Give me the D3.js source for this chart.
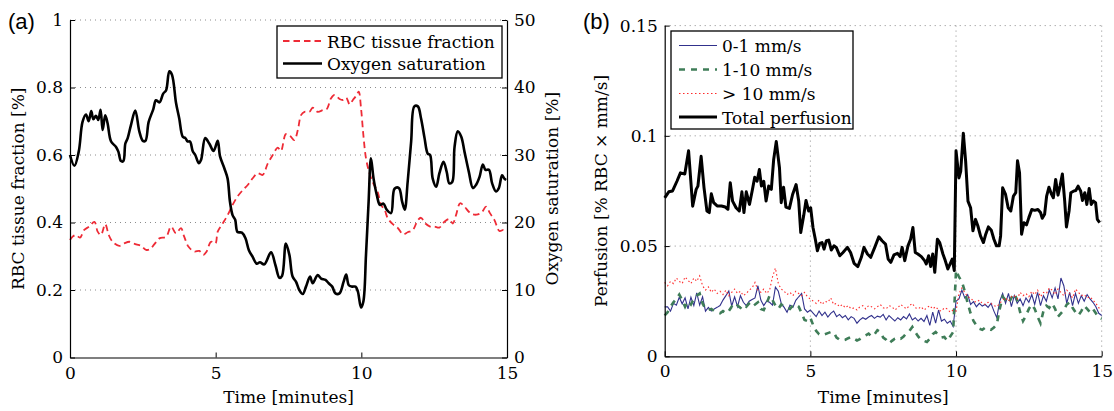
<!DOCTYPE html>
<html><head><meta charset="utf-8">
<script src="https://cdn.jsdelivr.net/npm/d3@7"></script>
<style>
body{margin:0;background:#fff}
svg text{font-family:"DejaVu Serif",serif;fill:#000}
</style></head><body>
<svg id="fig" width="1114" height="411"></svg>
<script>
// ---------- Panel (a): RBC tissue fraction and oxygen saturation ----------
// [time (min), RBC tissue fraction]
const rbcFraction = [
  [0,0.348],[0.09,0.358],[0.2,0.363],[0.34,0.355],[0.49,0.378],[0.66,0.388],[0.84,0.402],[0.95,0.373],
  [1.06,0.363],[1.21,0.395],[1.33,0.363],[1.46,0.343],[1.69,0.331],[1.86,0.338],[2.04,0.343],[2.27,0.335],
  [2.44,0.331],[2.61,0.319],[2.75,0.321],[2.89,0.335],[3.07,0.353],[3.3,0.358],[3.47,0.388],[3.64,0.368],
  [3.81,0.383],[3.92,0.358],[4.07,0.328],[4.27,0.314],[4.44,0.316],[4.58,0.304],[4.69,0.314],[4.84,0.343],
  [4.99,0.338],[5.07,0.373],[5.24,0.397],[5.41,0.422],[5.58,0.452],[5.75,0.477],[5.93,0.496],[6.1,0.511],
  [6.27,0.531],[6.44,0.546],[6.61,0.541],[6.79,0.575],[6.96,0.6],[7.13,0.622],[7.24,0.612],[7.41,0.662],
  [7.55,0.657],[7.7,0.644],[7.82,0.674],[7.93,0.718],[8.05,0.728],[8.22,0.728],[8.33,0.74],[8.5,0.728],
  [8.68,0.733],[8.81,0.736],[8.96,0.768],[9.08,0.778],[9.25,0.766],[9.37,0.763],[9.48,0.77],[9.6,0.75],
  [9.71,0.763],[9.83,0.776],[9.91,0.788],[9.99,0.738],[10.07,0.659],[10.16,0.59],[10.28,0.546],[10.41,0.516],
  [10.56,0.491],[10.68,0.452],[10.8,0.437],[10.91,0.412],[11.08,0.395],[11.26,0.383],[11.43,0.365],[11.59,0.371],
  [11.77,0.378],[11.94,0.407],[12.05,0.414],[12.2,0.397],[12.36,0.388],[12.51,0.388],[12.68,0.385],[12.85,0.402],
  [13.02,0.41],[13.14,0.397],[13.25,0.422],[13.39,0.457],[13.54,0.447],[13.69,0.432],[13.83,0.424],[14.0,0.424],
  [14.15,0.432],[14.28,0.447],[14.42,0.427],[14.57,0.407],[14.74,0.375],[14.88,0.378],[14.97,0.373]
];
// [time (min), oxygen saturation (%)]
const oxygenSat = [
  [0,30.0],[0.15,28.4],[0.3,30.5],[0.43,34.9],[0.55,36.0],[0.64,35.0],[0.73,36.5],[0.8,35.3],[0.89,35.8],
  [0.97,35.2],[1.05,36.7],[1.12,33.7],[1.21,35.9],[1.29,34.7],[1.41,32.0],[1.58,31.2],[1.66,30.5],[1.75,29.1],
  [1.83,29.1],[1.9,31.7],[1.98,32.5],[2.09,34.4],[2.24,36.6],[2.38,33.5],[2.5,32.1],[2.59,32.1],[2.7,34.9],
  [2.86,36.8],[2.95,38.1],[3.07,37.8],[3.2,39.1],[3.3,39.6],[3.41,42.4],[3.5,41.9],[3.64,37.7],[3.75,35.4],
  [3.87,32.7],[3.96,32.5],[4.04,32.0],[4.12,32.0],[4.21,30.6],[4.3,30.0],[4.42,28.8],[4.5,29.3],[4.64,32.5],
  [4.78,31.7],[4.93,30.6],[5.07,32.1],[5.15,29.8],[5.3,28.0],[5.41,26.5],[5.49,23.1],[5.58,21.1],[5.67,20.4],
  [5.75,18.6],[5.9,18.5],[6.02,17.7],[6.14,15.9],[6.27,14.9],[6.41,13.9],[6.52,14.1],[6.67,13.8],[6.9,15.6],
  [7.05,13.7],[7.19,11.8],[7.28,12.1],[7.41,16.9],[7.53,15.2],[7.64,12.0],[7.76,11.2],[7.87,10.0],[7.99,9.4],
  [8.1,10.5],[8.24,12.0],[8.33,11.0],[8.5,12.2],[8.62,11.7],[8.77,11.5],[8.88,11.0],[9.0,10.5],[9.11,9.5],
  [9.25,9.5],[9.39,11.2],[9.48,12.3],[9.57,10.7],[9.68,10.5],[9.8,10.5],[9.88,9.8],[9.99,7.4],[10.07,8.3],
  [10.16,15.2],[10.25,23.1],[10.33,29.5],[10.42,26.5],[10.53,24.1],[10.64,22.6],[10.76,22.8],[10.87,21.9],
  [11.02,21.4],[11.14,25.0],[11.29,25.1],[11.4,23.1],[11.49,21.9],[11.59,26.0],[11.71,32.0],[11.82,37.2],
  [11.94,37.2],[12.05,35.4],[12.17,32.5],[12.28,30.2],[12.36,30.0],[12.45,26.5],[12.57,25.3],[12.68,27.3],
  [12.82,29.0],[12.93,27.5],[13.02,25.8],[13.12,26.0],[13.2,31.2],[13.31,33.5],[13.43,32.7],[13.54,30.5],
  [13.69,27.5],[13.83,25.1],[13.94,25.6],[14.06,26.8],[14.17,28.6],[14.26,27.8],[14.38,27.8],[14.49,25.8],
  [14.62,24.6],[14.72,25.1],[14.83,27.0],[14.91,26.5],[14.97,26.3]
];
const timeTicks = [0, 5, 10, 15];
const rbcTicks = [0, 0.2, 0.4, 0.6, 0.8, 1];
const satTicks = [0, 10, 20, 30, 40, 50];

// ---------- Panel (b): perfusion by flow-speed class ----------
// total perfusion, [time (min), % RBC x mm/s]
const totalPerfusion = [
  [0,0.0719],[0.14,0.0746],[0.27,0.075],[0.42,0.0794],[0.54,0.0832],[0.69,0.0827],[0.82,0.0932],[0.96,0.0681],
  [1.08,0.0757],[1.14,0.0772],[1.25,0.0907],[1.35,0.0764],[1.45,0.0659],[1.53,0.0652],[1.6,0.0737],[1.68,0.0697],
  [1.8,0.0682],[1.95,0.0682],[2.08,0.0677],[2.17,0.0667],[2.25,0.0787],[2.33,0.0704],[2.45,0.0674],[2.56,0.0659],
  [2.65,0.0746],[2.72,0.0652],[2.8,0.0746],[2.91,0.0689],[3.0,0.0749],[3.09,0.0812],[3.17,0.0794],[3.25,0.0847],
  [3.32,0.0772],[3.4,0.0794],[3.48,0.0704],[3.57,0.0772],[3.66,0.0757],[3.74,0.0892],[3.83,0.0974],[3.94,0.0854],
  [4.0,0.0697],[4.08,0.0767],[4.16,0.0677],[4.28,0.0671],[4.39,0.0734],[4.51,0.0779],[4.6,0.0704],[4.67,0.0561],
  [4.77,0.0637],[4.85,0.0707],[4.94,0.0659],[5.01,0.0674],[5.09,0.0584],[5.17,0.0531],[5.24,0.0479],[5.32,0.0512],
  [5.4,0.0516],[5.47,0.0486],[5.55,0.0524],[5.63,0.0527],[5.72,0.0482],[5.81,0.0501],[5.89,0.0494],[6.01,0.0456],
  [6.12,0.0471],[6.27,0.0494],[6.38,0.0471],[6.5,0.0422],[6.63,0.0407],[6.75,0.0449],[6.84,0.0494],[6.96,0.0464],
  [7.07,0.0449],[7.21,0.0494],[7.35,0.0542],[7.46,0.0524],[7.58,0.0509],[7.67,0.0441],[7.76,0.0426],[7.87,0.046],
  [7.99,0.0467],[8.08,0.0452],[8.15,0.0494],[8.24,0.0434],[8.35,0.0501],[8.44,0.0531],[8.52,0.0584],[8.6,0.0471],
  [8.69,0.0464],[8.81,0.0452],[8.92,0.0434],[8.98,0.0419],[9.06,0.0456],[9.13,0.0407],[9.2,0.0464],[9.27,0.0381],
  [9.36,0.0531],[9.44,0.0516],[9.55,0.0464],[9.63,0.0434],[9.72,0.0396],[9.82,0.0426],[9.87,0.0441],[9.94,0.0389],
  [10.0,0.0932],[10.1,0.0809],[10.16,0.0839],[10.25,0.1012],[10.33,0.0884],[10.41,0.0704],[10.5,0.0674],[10.58,0.0569],
  [10.67,0.0621],[10.75,0.0591],[10.84,0.0546],[10.94,0.0516],[11.02,0.0554],[11.11,0.0587],[11.21,0.0572],[11.3,0.0531],
  [11.39,0.0501],[11.48,0.0501],[11.53,0.0546],[11.6,0.0764],[11.7,0.0734],[11.79,0.0674],[11.88,0.0659],[11.97,0.0727],
  [12.05,0.0742],[12.11,0.0887],[12.18,0.0832],[12.25,0.0554],[12.33,0.0606],[12.42,0.0596],[12.5,0.0629],[12.6,0.0666],
  [12.7,0.0662],[12.81,0.0666],[12.9,0.0652],[12.96,0.0626],[13.04,0.0644],[13.11,0.0727],[13.19,0.0767],[13.27,0.0737],
  [13.34,0.0719],[13.42,0.0802],[13.5,0.0731],[13.57,0.0772],[13.65,0.0827],[13.73,0.0704],[13.79,0.0587],[13.88,0.0659],
  [13.94,0.0742],[14.03,0.0749],[14.11,0.0752],[14.19,0.0772],[14.28,0.0749],[14.34,0.0707],[14.42,0.0742],[14.49,0.0689],
  [14.57,0.0761],[14.64,0.0689],[14.71,0.0704],[14.79,0.0697],[14.85,0.0621],[14.93,0.0606]
];
// speed-class perfusion sampled every 0.1 min from 0 to 15 min
const sampleStep = 0.1;
const slowFlow = [ // 0-1 mm/s
  0.0224,0.0224,0.0205,0.0240,0.0232,0.0268,0.0238,0.0265,0.0215,0.0268,
  0.0230,0.0288,0.0232,0.0270,0.0205,0.0222,0.0205,0.0215,0.0222,0.0230,
  0.0255,0.0275,0.0296,0.0228,0.0270,0.0225,0.0275,0.0245,0.0230,0.0250,
  0.0258,0.0265,0.0320,0.0255,0.0230,0.0250,0.0245,0.0232,0.0314,0.0295,
  0.0240,0.0222,0.0200,0.0232,0.0222,0.0254,0.0270,0.0285,0.0215,0.0200,
  0.0210,
  0.0195,0.0180,0.0205,0.0185,0.0200,0.0178,0.0195,0.0205,0.0180,0.0190,
  0.0175,0.0185,0.0165,0.0180,0.0172,0.0150,0.0165,0.0175,0.0168,0.0178,
  0.0185,0.0172,0.0182,0.0178,0.0190,0.0165,0.0185,0.0172,0.0160,0.0175,
  0.0165,0.0180,0.0170,0.0192,0.0165,0.0175,0.0160,0.0172,0.0158,0.0185,
  0.0140,0.0200,0.0150,0.0210,0.0160,0.0168,0.0150,0.0160,0.0135,0.0250,
  0.0260,0.0300,0.0265,0.0280,0.0235,0.0248,0.0225,0.0240,0.0228,0.0235,
  0.0222,0.0240,0.0205,0.0175,0.0250,0.0285,0.0240,0.0285,0.0225,0.0275,
  0.0240,0.0260,0.0230,0.0265,0.0245,0.0280,0.0235,0.0290,0.0230,0.0275,
  0.0250,0.0300,0.0265,0.0310,0.0260,0.0355,0.0320,0.0240,0.0290,0.0230,
  0.0285,0.0240,0.0275,0.0250,0.0280,0.0260,0.0245,0.0225,0.0195,0.0185
];
const midFlow = [ // 1-10 mm/s
  0.0185,0.0200,0.0225,0.0245,0.0260,0.0280,0.0255,0.0225,0.0250,0.0235,
  0.0260,0.0275,0.0285,0.0240,0.0215,0.0210,0.0215,0.0205,0.0200,0.0195,
  0.0205,0.0195,0.0205,0.0225,0.0215,0.0230,0.0220,0.0235,0.0225,0.0240,
  0.0250,0.0235,0.0245,0.0215,0.0210,0.0240,0.0275,0.0255,0.0230,0.0215,
  0.0235,0.0225,0.0220,0.0215,0.0230,0.0235,0.0225,0.0195,0.0165,0.0160,
  0.0175,
  0.0140,0.0115,0.0100,0.0095,0.0100,0.0105,0.0110,0.0108,0.0085,0.0075,
  0.0072,0.0075,0.0082,0.0088,0.0080,0.0072,0.0078,0.0088,0.0095,0.0103,
  0.0090,0.0100,0.0118,0.0110,0.0085,0.0075,0.0058,0.0070,0.0080,0.0085,
  0.0080,0.0090,0.0105,0.0115,0.0133,0.0110,0.0090,0.0075,0.0070,0.0065,
  0.0080,0.0100,0.0110,0.0095,0.0085,0.0088,0.0070,0.0090,0.0110,0.0390,
  0.0360,0.0340,0.0295,0.0240,0.0195,0.0160,0.0140,0.0125,0.0120,0.0130,
  0.0125,0.0120,0.0130,0.0145,0.0215,0.0270,0.0255,0.0240,0.0265,0.0285,
  0.0255,0.0200,0.0160,0.0185,0.0215,0.0235,0.0215,0.0180,0.0150,0.0205,
  0.0230,0.0220,0.0240,0.0215,0.0180,0.0195,0.0210,0.0235,0.0245,0.0220,
  0.0200,0.0185,0.0205,0.0230,0.0215,0.0200,0.0215,0.0195,0.0175,0.0170
];
const fastFlow = [ // > 10 mm/s
  0.0335,0.0320,0.0340,0.0330,0.0355,0.0340,0.0330,0.0360,0.0345,0.0330,
  0.0355,0.0340,0.0365,0.0320,0.0300,0.0315,0.0290,0.0305,0.0285,0.0295,
  0.0280,0.0300,0.0275,0.0290,0.0305,0.0285,0.0295,0.0275,0.0285,0.0300,
  0.0310,0.0335,0.0300,0.0290,0.0305,0.0285,0.0300,0.0360,0.0400,0.0330,
  0.0305,0.0295,0.0280,0.0290,0.0275,0.0295,0.0285,0.0275,0.0290,0.0270,
  0.0260,
  0.0250,0.0240,0.0255,0.0235,0.0250,0.0245,0.0265,0.0235,0.0240,0.0225,
  0.0235,0.0220,0.0230,0.0215,0.0220,0.0210,0.0225,0.0230,0.0215,0.0230,
  0.0225,0.0215,0.0225,0.0235,0.0220,0.0215,0.0230,0.0225,0.0210,0.0220,
  0.0235,0.0225,0.0215,0.0230,0.0240,0.0220,0.0215,0.0225,0.0210,0.0220,
  0.0230,0.0215,0.0225,0.0210,0.0205,0.0220,0.0215,0.0200,0.0210,0.0205,
  0.0285,0.0310,0.0290,0.0270,0.0265,0.0250,0.0245,0.0255,0.0240,0.0235,
  0.0245,0.0240,0.0230,0.0225,0.0240,0.0255,0.0265,0.0250,0.0270,0.0275,
  0.0260,0.0290,0.0275,0.0285,0.0270,0.0295,0.0280,0.0300,0.0270,0.0290,
  0.0285,0.0310,0.0300,0.0280,0.0305,0.0290,0.0275,0.0300,0.0285,0.0265,
  0.0305,0.0290,0.0275,0.0280,0.0265,0.0270,0.0255,0.0240,0.0220,0.0210
];
const perfTicks = [0, 0.05, 0.1, 0.15];
const perfTickLabels = ["0", "0.05", "0.1", "0.15"];

const legendA = [
  {label: "RBC tissue fraction", color: "#ee2b36", width: 1.8, dash: "6.5,4"},
  {label: "Oxygen saturation", color: "#000", width: 2.6, dash: null}
];
const legendB = [
  {label: "0-1 mm/s", color: "#31318c", width: 1.1, dash: null},
  {label: "1-10 mm/s", color: "#3f7d58", width: 2.6, dash: "6,6"},
  {label: "> 10 mm/s", color: "#ff2a2a", width: 1.1, dash: "1.5,2.5"},
  {label: "Total perfusion", color: "#000", width: 3, dash: null}
];

const svg = d3.select("#fig");
svg.append("rect").attr("width", 1114).attr("height", 411).attr("fill", "#fff");
const FS = 17;
const GRID = "#8c8c8c";

function styleAxis(g) {
  g.selectAll("path.domain").attr("stroke", "#000").attr("stroke-width", 1.2);
  g.selectAll(".tick line").attr("stroke", "#000").attr("stroke-width", 1);
  g.selectAll(".tick text").style("font-family", '"DejaVu Serif",serif').style("font-size", FS + "px").attr("fill", "#000");
}
function gridH(g, scale, vals, x0, x1) {
  g.selectAll(null).data(vals).join("line")
    .attr("x1", x0).attr("x2", x1).attr("y1", d => scale(d)).attr("y2", d => scale(d))
    .attr("stroke", GRID).attr("stroke-width", 1).attr("stroke-dasharray", "1,4");
}
function gridV(g, scale, vals, y0, y1) {
  g.selectAll(null).data(vals).join("line")
    .attr("y1", y0).attr("y2", y1).attr("x1", d => scale(d)).attr("x2", d => scale(d))
    .attr("stroke", GRID).attr("stroke-width", 1).attr("stroke-dasharray", "1,4");
}
function drawLegend(g, items, x, y, w, h, rowY, lineX0, lineX1, textX) {
  g.append("rect").attr("x", x).attr("y", y).attr("width", w).attr("height", h)
    .attr("fill", "#fff").attr("stroke", "#000").attr("stroke-width", 1.3);
  items.forEach((it, i) => {
    const yy = rowY[i];
    g.append("line").attr("x1", lineX0).attr("x2", lineX1).attr("y1", yy).attr("y2", yy)
      .attr("stroke", it.color).attr("stroke-width", it.width)
      .attr("stroke-dasharray", it.dash);
    g.append("text").attr("x", textX).attr("y", yy + 6.5).style("font-size", FS + "px").text(it.label);
  });
}

// ===== Panel (a) =====
const A = {l: 70, r: 507, t: 20, b: 357.5};
const xA = d3.scaleLinear().domain([0, 15]).range([A.l, A.r]);
const yA = d3.scaleLinear().domain([0, 1]).range([A.b, A.t]);
const yA2 = d3.scaleLinear().domain([0, 50]).range([A.b, A.t]);
const gA = svg.append("g");
gridH(gA, yA, rbcTicks.slice(1), A.l, A.r);

gA.append("path").datum(rbcFraction)
  .attr("fill", "none").attr("stroke", legendA[0].color).attr("stroke-width", legendA[0].width)
  .attr("stroke-dasharray", legendA[0].dash)
  .attr("d", d3.line().x(d => xA(d[0])).y(d => yA(d[1])).curve(d3.curveCatmullRom.alpha(0.5)));
gA.append("path").datum(oxygenSat)
  .attr("fill", "none").attr("stroke", legendA[1].color).attr("stroke-width", legendA[1].width)
  .attr("stroke-linejoin", "round")
  .attr("d", d3.line().x(d => xA(d[0])).y(d => yA2(d[1])).curve(d3.curveCatmullRom.alpha(0.5)));

gA.append("g").attr("transform", `translate(0,${A.b})`)
  .call(d3.axisBottom(xA).tickValues(timeTicks).tickFormat(d3.format("d")).tickSizeInner(-5).tickSizeOuter(0).tickPadding(9))
  .call(styleAxis);
gA.append("g").attr("transform", `translate(${A.l},0)`)
  .call(d3.axisLeft(yA).tickValues(rbcTicks).tickFormat(d3.format("~g")).tickSizeInner(-5).tickSizeOuter(0).tickPadding(7))
  .call(styleAxis);
gA.append("g").attr("transform", `translate(${A.r},0)`)
  .call(d3.axisRight(yA2).tickValues(satTicks).tickFormat(d3.format("d")).tickSizeInner(-5).tickSizeOuter(0).tickPadding(7))
  .call(styleAxis);

drawLegend(gA, legendA, 277, 26, 225, 52, [41, 63.5], 283, 322, 327);

gA.append("text").attr("x", (A.l + A.r) / 2).attr("y", 403).attr("text-anchor", "middle")
  .style("font-size", FS + "px").text("Time [minutes]");
gA.append("text").attr("transform", `translate(24,${(A.t + A.b) / 2}) rotate(-90)`).attr("text-anchor", "middle")
  .style("font-size", FS + "px").text("RBC tissue fraction [%]");
gA.append("text").attr("transform", `translate(558,${(A.t + A.b) / 2}) rotate(-90)`).attr("text-anchor", "middle")
  .style("font-size", FS + "px").text("Oxygen saturation [%]");
gA.append("text").attr("x", 8).attr("y", 29).style("font-family", '"Liberation Sans",Arial,sans-serif')
  .style("font-size", "22px").text("(a)");

// ===== Panel (b) =====
const B = {l: 664.7, r: 1101.7, t: 25.6, b: 356.3};
const xB = d3.scaleLinear().domain([0, 15]).range([B.l, B.r]);
const yB = d3.scaleLinear().domain([0, 0.15]).range([B.b, B.t]);
const gB = svg.append("g");
gridH(gB, yB, perfTicks.slice(1), B.l, B.r);
gridV(gB, xB, timeTicks.slice(1), B.t, B.b);

const sampled = vals => vals.map((v, i) => [i * sampleStep, v]);
const lineB = d3.line().x(d => xB(d[0])).y(d => yB(d[1]));
[slowFlow, midFlow, fastFlow].forEach((series, i) => {
  gB.append("path").datum(sampled(series))
    .attr("fill", "none").attr("stroke", legendB[i].color).attr("stroke-width", legendB[i].width)
    .attr("stroke-dasharray", legendB[i].dash).attr("d", lineB);
});
gB.append("path").datum(totalPerfusion)
  .attr("fill", "none").attr("stroke", legendB[3].color).attr("stroke-width", legendB[3].width)
  .attr("stroke-linejoin", "round").attr("d", lineB);

gB.append("g").attr("transform", `translate(0,${B.b})`)
  .call(d3.axisBottom(xB).tickValues(timeTicks).tickFormat(d3.format("d")).tickSizeInner(-5).tickSizeOuter(0).tickPadding(9))
  .call(styleAxis);
gB.append("g").attr("transform", `translate(${B.l},0)`)
  .call(d3.axisLeft(yB).tickValues(perfTicks).tickFormat((d, i) => perfTickLabels[i]).tickSizeInner(-5).tickSizeOuter(0).tickPadding(7))
  .call(styleAxis);

drawLegend(gB, legendB, 671, 31, 182, 98, [45.5, 69.5, 93.5, 117], 679, 717, 722);

gB.append("text").attr("x", (B.l + B.r) / 2).attr("y", 403).attr("text-anchor", "middle")
  .style("font-size", FS + "px").text("Time [minutes]");
gB.append("text").attr("transform", `translate(607,${(B.t + B.b) / 2}) rotate(-90)`).attr("text-anchor", "middle")
  .style("font-size", FS + "px").text("Perfusion [% RBC \u00d7 mm/s]");
gB.append("text").attr("x", 583).attr("y", 29).style("font-family", '"Liberation Sans",Arial,sans-serif')
  .style("font-size", "22px").text("(b)");
</script>
</body></html>
